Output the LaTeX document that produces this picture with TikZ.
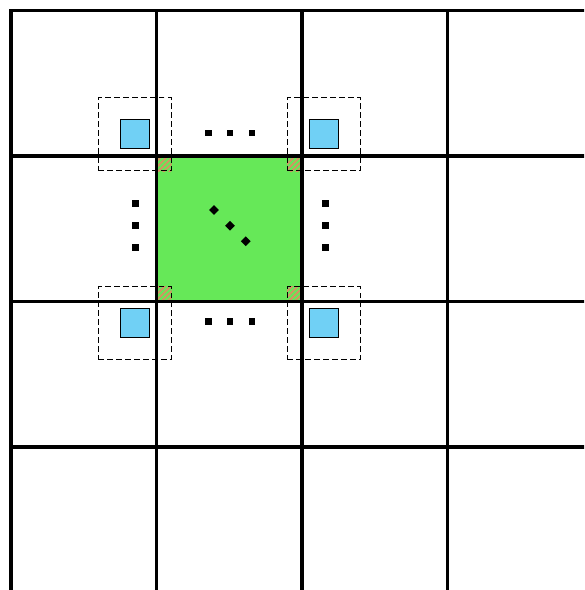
\documentclass[tikz,border=0pt]{standalone}
\usetikzlibrary{patterns.meta}

\definecolor{cellgreen}{RGB}{102,232,88}
\definecolor{haloblue}{RGB}{112,208,245}
\definecolor{hatchorange}{RGB}{214,146,98}

\newcommand{\haloregion}[2]{%
  % ghost region around a corner, with its copied block
  \begin{scope}[shift={(#2)}]
    \node[ghostbox] (g#1) at (0,0) {};
    \node[haloblock] (h#1) at (0,0) {};
  \end{scope}
}

\begin{document}
\begin{tikzpicture}[x=2cm, y=2cm,
    cellline/.style={line width=1.25pt},
    ghostbox/.style={rectangle, draw, dash pattern=on 2.2pt off 1.3pt, line width=0.4pt, minimum size=1cm, inner sep=0pt},
    haloblock/.style={rectangle, draw, fill=haloblue, line width=0.5pt, minimum size=0.4cm, inner sep=0pt},
    dotmark/.style={rectangle, fill=black, minimum size=2.7pt, inner sep=0pt},
    diagmark/.style={dotmark, rotate=45},
    overlap/.style={pattern={Lines[angle=45, distance=1.6pt, line width=0.7pt]}, pattern color=hatchorange}
  ]
  \useasboundingbox (-0.076, 0.072) rectangle (3.938, -3.983);
  \clip (-0.076, 0.072) rectangle (3.938, -3.983);

  % the owned cell
  \fill[cellgreen] (1,-1) rectangle (2,-2);

  % ghost regions at the four corners
  \haloregion{nw}{0.85,-0.85}
  \haloregion{ne}{2.15,-0.85}
  \haloregion{sw}{0.85,-2.15}
  \haloregion{se}{2.15,-2.15}

  % where the ghost regions reach into the cell
  \begin{scope}
    \clip (1,-1) rectangle (2,-2);
    \fill[overlap] (gnw.north west) rectangle (gnw.south east);
    \fill[overlap] (gne.north west) rectangle (gne.south east);
    \fill[overlap] (gsw.north west) rectangle (gsw.south east);
    \fill[overlap] (gse.north west) rectangle (gse.south east);
  \end{scope}

  % cell borders
  \draw[cellline] (4.1,0) -- (0,0) -- (0,-4.1);
  \draw[cellline] (1,0) -- (1,-4.1);
  \draw[cellline] (2,0) -- (2,-4.1);
  \draw[cellline] (3,0) -- (3,-4.1);
  \draw[cellline] (0,-1) -- (4.1,-1);
  \draw[cellline] (0,-2) -- (4.1,-2);
  \draw[cellline] (0,-3) -- (4.1,-3);

  % redraw ghost outlines and blocks over the borders
  \haloregion{nw}{0.85,-0.85}
  \haloregion{ne}{2.15,-0.85}
  \haloregion{sw}{0.85,-2.15}
  \haloregion{se}{2.15,-2.15}

  % dots between the ghost regions
  \node[dotmark] (t1) at (1.355,-0.842) {};
  \node[dotmark] (t2) at (1.505,-0.842) {};
  \node[dotmark] (t3) at (1.656,-0.842) {};

  \node[dotmark] (b1) at (1.355,-2.139) {};
  \node[dotmark] (b2) at (1.505,-2.139) {};
  \node[dotmark] (b3) at (1.656,-2.139) {};

  \node[dotmark] (l1) at (0.854,-1.328) {};
  \node[dotmark] (l2) at (0.854,-1.479) {};
  \node[dotmark] (l3) at (0.854,-1.631) {};

  \node[dotmark] (r1) at (2.160,-1.328) {};
  \node[dotmark] (r2) at (2.160,-1.479) {};
  \node[dotmark] (r3) at (2.160,-1.631) {};

  \node[diagmark] (d1) at (1.395,-1.371) {};
  \node[diagmark] (d2) at (1.505,-1.479) {};
  \node[diagmark] (d3) at (1.613,-1.586) {};
\end{tikzpicture}
\end{document}
